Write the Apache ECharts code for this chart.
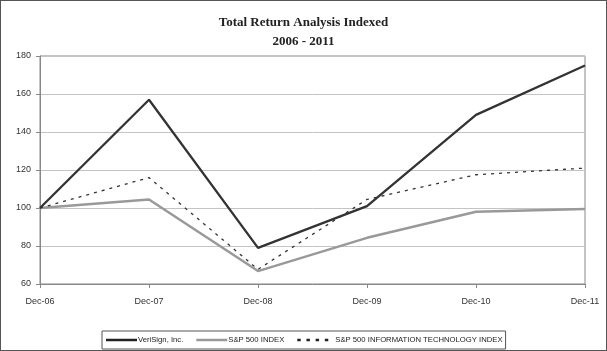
<!DOCTYPE html>
<html><head><meta charset="utf-8">
<script src="https://cdn.jsdelivr.net/npm/echarts@6/dist/echarts.min.js"></script>
<style>
html,body{margin:0;padding:0;background:#fff;}
#wrap{position:relative;width:607px;height:351px;}
#c{width:607px;height:351px;}
#frame{position:absolute;left:0;top:0;width:607px;height:351px;box-sizing:border-box;border:1px solid #555;pointer-events:none;}
</style></head>
<body><div id="wrap"><div id="c"></div><div id="frame"></div></div>
<script>
const categories = ['Dec-06','Dec-07','Dec-08','Dec-09','Dec-10','Dec-11'];
const verisign = [100, 157, 79, 101, 149, 175];
const sp500 = [100, 104.5, 66.8, 84.3, 98, 99.5];
const spIT = [100, 116, 67.7, 104.5, 117.5, 121];
const seriesNames = ['VeriSign, Inc.', 'S&P 500 INDEX', 'S&P 500 INFORMATION TECHNOLOGY INDEX'];
const titleText = 'Total Return Analysis Indexed\n2006 - 2011';

const chart = echarts.init(document.getElementById('c'), null, {renderer:'canvas'});
chart.setOption({
  animation:false,
  backgroundColor:'#fff',
  title:{text:titleText,left:'center',top:8,
    textStyle:{fontFamily:'Liberation Serif',fontWeight:'bold',fontSize:13,color:'#222',lineHeight:19}},
  grid:{left:40,right:22,top:56,bottom:67,show:true,borderColor:'#888',borderWidth:1},
  legend:{bottom:2,left:102,
    data:[
      {name:seriesNames[0],icon:'rect',itemStyle:{color:'#222'}},
      {name:seriesNames[1],icon:'rect',itemStyle:{color:'#999'}},
      {name:seriesNames[2],icon:'path://M0,0h3v2h-3z M8,0h3v2h-3z M16,0h3v2h-3z M24,0h3v2h-3z',itemStyle:{color:'#222'},
        textStyle:{padding:[0,0,0,2]}}
    ],
    symbolKeepAspect:false,
    borderColor:'#555',borderWidth:1,borderRadius:0,padding:[5,3,5,4],itemGap:13,
    itemWidth:31,itemHeight:2.5,
    textStyle:{fontFamily:'Liberation Sans',fontSize:7.7,color:'#222',padding:[0,0,0,-4]}},
  xAxis:{type:'category',data:categories,boundaryGap:false,
    axisLine:{lineStyle:{color:'#888'}},
    axisTick:{length:4,inside:false,lineStyle:{color:'#888'}},
    axisLabel:{fontFamily:'Liberation Sans',fontSize:9,color:'#333',margin:13}},
  yAxis:{type:'value',min:60,max:180,interval:20,
    axisLine:{show:true,lineStyle:{color:'#888'}},
    axisTick:{show:true,length:4,lineStyle:{color:'#888'}},
    splitLine:{lineStyle:{color:'#c4c4c4'}},
    axisLabel:{fontFamily:'Liberation Sans',fontSize:9,color:'#333',margin:9}},
  series:[
    {name:seriesNames[0],type:'line',data:verisign,symbol:'none',
      lineStyle:{color:'#333',width:2.3},itemStyle:{color:'#333'},z:4},
    {name:seriesNames[1],type:'line',data:sp500,symbol:'none',
      lineStyle:{color:'#999',width:2.5},itemStyle:{color:'#999'},z:2},
    {name:seriesNames[2],type:'line',data:spIT,symbol:'none',
      lineStyle:{color:'#333',width:1.3,type:[3,5]},itemStyle:{color:'#333'},z:3}
  ]
});
</script></body></html>
